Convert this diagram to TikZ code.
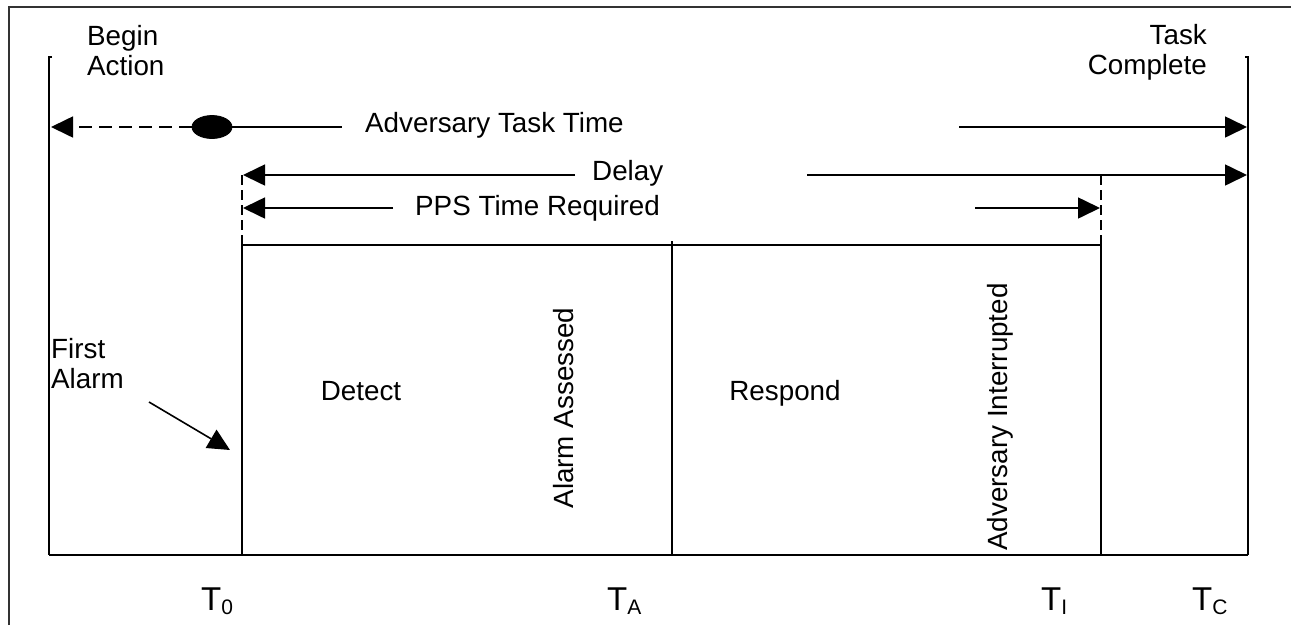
\documentclass[tikz,border=0pt]{standalone}
\usepackage{fontspec}
\setmainfont{Liberation Sans}
\usetikzlibrary{arrows.meta,calc,shapes.geometric}
\tikzset{
  lbl/.style={inner sep=0pt, font=\fontsize{27.8}{30}\selectfont},
  tlbl/.style={inner sep=0pt, anchor=base west, font=\fontsize{33}{36}\selectfont},
  tri/.style={-{Triangle[length=22pt,width=21pt]}},
  rule/.style={line width=1.6pt},
  dash line/.style={line width=1.6pt, dash pattern=on 13pt off 7pt},
  tick line/.style={line width=1.6pt, dash pattern=on 10pt off 5pt},
}
\newcommand{\tsub}[1]{\raisebox{-4pt}{\fontsize{21}{23}\selectfont #1}}
\begin{document}
\begin{tikzpicture}[x=1pt,y=-1pt]
\useasboundingbox (0,0) rectangle (1291,625);
\fill[white] (0,0) rectangle (1291,625);

% outer frame
\draw[line width=1.3pt, black!80] (9,625) -- (9,7) -- (1291,7);

% time axis and phase boxes
\coordinate (ll) at (49,555);
\coordinate (lt) at (49,57);
\coordinate (rl) at (1248,555);
\coordinate (rt) at (1248,57);
\coordinate (t0b) at (242,555);
\coordinate (t0t) at (242,245);
\coordinate (tab) at (672,555);
\coordinate (tat) at (672,241);
\coordinate (tib) at (1101,555);
\coordinate (tit) at (1101,245);
\draw[rule] ($(lt)+(3,0)$) -- (lt) -- (ll);
\draw[rule] ($(rt)+(-3,0)$) -- (rt) -- (rl);
\draw[line width=2.6pt] (ll) -- (rl);
\draw[rule] (t0b) -- (t0t) -- (tit) -- (tib);
\draw[rule] (tab) -- (tat);

% dashed markers above the box
\coordinate (t0d) at (242,175);
\coordinate (tid) at (1101,175);
\draw[tick line] (t0d) -- (t0t);
\draw[tick line] (tid) -- (tit);

% adversary task time
\node[ellipse, fill=black, draw=black, line width=0.8pt, minimum width=40pt, minimum height=23pt, inner sep=0pt] (ell) at (212,127) {};
\coordinate (advL) at (51,127);
\coordinate (advM) at (342,127);
\coordinate (advR0) at (959,127);
\coordinate (advR) at (1247,127);
\draw[dash line, tri] (ell.west) -- (advL);
\draw[rule] (ell.east) -- (advM);
\draw[rule, tri] (advR0) -- (advR);
\node[lbl, anchor=base west] (advtxt) at (365,132) {Adversary Task Time};

% delay
\coordinate (delL0) at (575,175);
\coordinate (delR0) at (807,175);
\coordinate (delL) at (243,175);
\coordinate (delR) at (1247,175);
\draw[rule, tri] (delL0) -- (delL);
\draw[rule, tri] (delR0) -- (delR);
\node[lbl, anchor=base west] (deltxt) at (592,180) {Delay};

% PPS time required
\coordinate (ppsL0) at (393,208);
\coordinate (ppsR0) at (975,208);
\coordinate (ppsL) at (243,208);
\coordinate (ppsR) at (1100,208);
\draw[rule, tri] (ppsL0) -- (ppsL);
\draw[rule, tri] (ppsR0) -- (ppsR);
\node[lbl, anchor=base west] (ppstxt) at (415,215) {PPS Time Required};

% end labels (anchored on the baseline of their last line)
\node[lbl, anchor=base west, align=left] (begin) at (87,75) {Begin\\Action};
\node[lbl, anchor=base east, align=right] (done) at (1207,74) {Task\\Complete};

% first alarm
\node[lbl, anchor=base west, align=left] (first) at (51,388) {First\\Alarm};
\coordinate (faS) at (149,402);
\coordinate (faE) at (230,450);
\draw[rule, tri] (faS) -- (faE);

% phase names
\node[lbl, anchor=base] (detect) at (361,400) {Detect};
\node[lbl, anchor=base] (respond) at (785,400) {Respond};
\node[lbl, anchor=base, rotate=90] (assessed) at (573,408) {Alarm Assessed};
\node[lbl, anchor=base, rotate=90] (interrupted) at (1007,417) {Adversary Interrupted};

% time marks
\node[tlbl] (T0) at (201,610) {T\tsub{0}};
\node[tlbl] (TA) at (607,610) {T\tsub{A}};
\node[tlbl] (TI) at (1041,610) {T\tsub{I}};
\node[tlbl] (TC) at (1192,610) {T\tsub{C}};
\end{tikzpicture}
\end{document}
